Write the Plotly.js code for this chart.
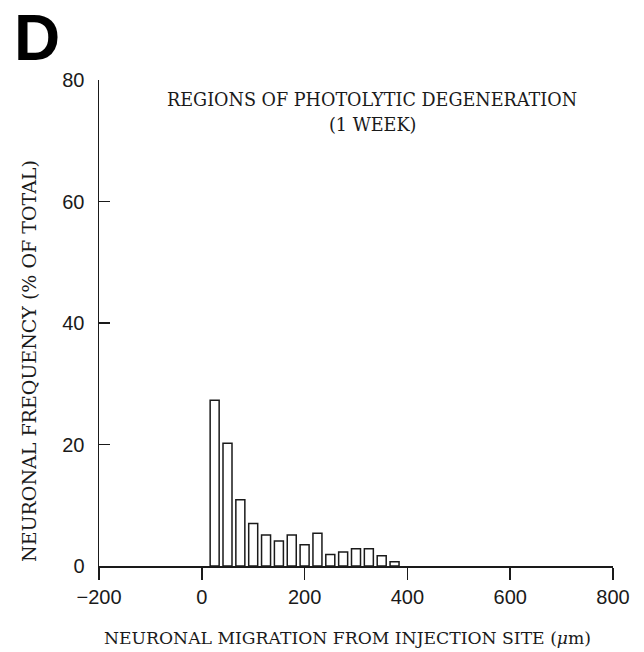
<!DOCTYPE html>
<html>
<head>
<meta charset="utf-8">
<script src="https://cdn.plot.ly/plotly-3.0.1.min.js"></script>
<style>html,body{margin:0;padding:0;background:#fff;}#chart{width:644px;height:652px;}</style>
</head>
<body>
<div id="chart"></div>
<script>
// Bin centres (µm) and neuronal frequency (% of total)
const binCenters = [25, 50, 75, 100, 125, 150, 175, 200, 225, 250, 275, 300, 325, 350, 375];
const frequency  = [27.3, 20.2, 10.9, 7.0, 5.1, 4.1, 5.1, 3.5, 5.4, 1.9, 2.3, 2.85, 2.85, 1.7, 0.7];
const xTicks = [-200, 0, 200, 400, 600, 800];
const yTicks = [0, 20, 40, 60, 80];
const panelLabel = "D";
const titleLine1 = "REGIONS OF PHOTOLYTIC DEGENERATION";
const titleLine2 = "(1 WEEK)";
const xTitle = "NEURONAL MIGRATION FROM INJECTION SITE (<i>μ</i>m)";
const yTitle = "NEURONAL FREQUENCY (% OF TOTAL)";

const ink = "#1a1a1a";
const serif = "DejaVu Serif";
const sans = "Liberation Sans";

const trace = {
  type: "bar",
  x: binCenters,
  y: frequency,
  marker: { color: "#ffffff", line: { color: ink, width: 1.5 } },
  hoverinfo: "x+y"
};

const layout = {
  width: 644, height: 652,
  margin: { l: 99, r: 31, t: 80, b: 86 },
  paper_bgcolor: "#fff", plot_bgcolor: "#fff",
  showlegend: false,
  bargap: 0.3,
  xaxis: {
    range: [-200, 800], tickvals: xTicks, ticktext: xTicks.map(v => v < 0 ? "\u2212" + Math.abs(v) : String(v)),
    showgrid: false, zeroline: false, showline: true, linecolor: ink, linewidth: 1.5,
    ticks: "outside", ticklen: 12, tickwidth: 1.5, tickcolor: ink,
    ticklabelstandoff: 0,
    tickfont: { family: sans, size: 20, color: ink }
  },
  yaxis: {
    range: [0, 80], tickvals: yTicks,
    showgrid: false, zeroline: false, showline: true, linecolor: ink, linewidth: 1.5,
    ticks: "inside", ticklen: 11, tickwidth: 1.5, tickcolor: ink,
    ticklabelstandoff: 9,
    tickfont: { family: sans, size: 20, color: ink }
  },
  annotations: [
    { text: "<b>" + panelLabel + "</b>", xref: "paper", yref: "paper", x: -0.1206, y: 1.1646,
      xanchor: "center", yanchor: "top", showarrow: false,
      font: { family: sans, size: 64, color: "#000" } },
    { text: titleLine1, xref: "paper", yref: "paper", x: 0.5302, y: 0.9588,
      xanchor: "center", yanchor: "middle", showarrow: false,
      font: { family: serif, size: 17.6, color: ink } },
    { text: titleLine2, xref: "paper", yref: "paper", x: 0.5321, y: 0.9064,
      xanchor: "center", yanchor: "middle", showarrow: false,
      font: { family: serif, size: 17.6, color: ink } },
    { text: xTitle, xref: "paper", yref: "paper", x: 0.4825, y: -0.1481,
      xanchor: "center", yanchor: "middle", showarrow: false,
      font: { family: serif, size: 17.2, color: ink } },
    { text: yTitle, xref: "paper", yref: "paper", x: -0.1362, y: 0.4218, textangle: -90,
      xanchor: "center", yanchor: "middle", showarrow: false,
      font: { family: serif, size: 19, color: ink } }
  ]
};

Plotly.newPlot("chart", [trace], layout, { displayModeBar: false, staticPlot: true });
</script>
</body>
</html>
